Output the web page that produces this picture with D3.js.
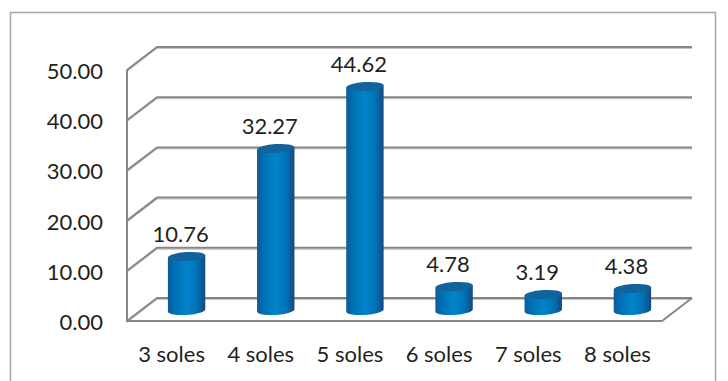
<!DOCTYPE html>
<html><head><meta charset="utf-8">
<script src="https://cdn.jsdelivr.net/npm/d3@7/dist/d3.min.js"></script>
<style>html,body{margin:0;padding:0;background:#fff}svg{display:block}text{font-family:Lato,"Open Sans",sans-serif;fill:#231f20;font-size:22px}</style>
</head><body><script>
const categories=["3 soles","4 soles","5 soles","6 soles","7 soles","8 soles"];
const values=[10.76,32.27,44.62,4.78,3.19,4.38];
const ticks=[0,10,20,30,40,50];

const W=728,H=381;
const svg=d3.select("body").append("svg").attr("width",W).attr("height",H);
const defs=svg.append("defs");
const g=defs.append("linearGradient").attr("id","cyl");
[[0,"#0f5a96"],[0.18,"#0070b4"],[0.5,"#0084ca"],[0.78,"#0072b6"],[1,"#17487f"]].forEach(([o,c])=>g.append("stop").attr("offset",o).attr("stop-color",c));

const y=d3.scaleLinear().domain([0,50]).range([321,70]);
const x=d3.scaleBand().domain(categories).range([127,662]).paddingInner(0.58).paddingOuter(0.29);
const dx=30,dy=-23;
const floorRight=662;
const line="#868686";

// outer frame
svg.append("path").attr("d","M10.5,381V12.5H715.5V381").attr("fill","none").attr("stroke","#a6a6a6").attr("stroke-width",1.5);

// walls
ticks.forEach(t=>{
  const p=d3.path();
  p.moveTo(127,y(t));p.lineTo(127+dx,y(t)+dy);p.lineTo(floorRight+dx,y(t)+dy);
  svg.append("path").attr("d",p.toString()).attr("fill","none").attr("stroke","#c4c4c4").attr("stroke-width",1).attr("transform","translate(0,1.5)");
  svg.append("path").attr("d",p.toString()).attr("fill","none").attr("stroke",line).attr("stroke-width",2);
});
// front axis and floor
const fl=d3.path();
fl.moveTo(127,y(50));fl.lineTo(127,y(0));fl.lineTo(floorRight,y(0));fl.lineTo(floorRight+dx,y(0)+dy);
svg.append("path").attr("d",fl.toString()).attr("fill","none").attr("stroke",line).attr("stroke-width",2);

// y labels
svg.selectAll(".yl").data(ticks).join("text").attr("class","yl")
  .attr("x",103).attr("y",t=>y(t)+9).attr("text-anchor","end").text(t=>t.toFixed(2));

// cylinders
const rx=18.7,ry=4.4,rot=-4;
const baseY=310.5;
const h=v=>y(0)-y(v);
const shift=d=>x(d)+x.bandwidth()/2+15;
const tiltY=rx*Math.sin(rot*Math.PI/180);
const bars=svg.selectAll(".bar").data(categories.map((c,i)=>({c,v:values[i]}))).join("g").attr("class","bar");
bars.append("path").attr("fill","url(#cyl)").attr("d",d=>{
  const cx=shift(d.c),top=baseY-h(d.v);
  return `M${cx-rx},${top-tiltY}L${cx+rx},${top+tiltY}L${cx+rx},${baseY+tiltY}A${rx},${ry} ${rot} 0 1 ${cx-rx},${baseY-tiltY}Z`;
});
bars.append("path").attr("fill","#12629c").attr("d",d=>{
  const cx=shift(d.c),top=baseY-h(d.v);
  return `M${cx-rx},${top-tiltY}A${rx},${ry} ${rot} 1 1 ${cx+rx},${top+tiltY}A${rx},${ry} ${rot} 1 1 ${cx-rx},${top-tiltY}Z`;
});
bars.append("text").attr("text-anchor","middle").attr("x",d=>shift(d.c)-6).attr("y",d=>baseY-h(d.v)-14.5).text(d=>d.v.toFixed(2));

// x labels
svg.selectAll(".xl").data(categories).join("text").attr("class","xl")
  .attr("text-anchor","middle").attr("x",d=>x(d)+x.bandwidth()/2).attr("y",362).text(d=>d);
</script></body></html>
